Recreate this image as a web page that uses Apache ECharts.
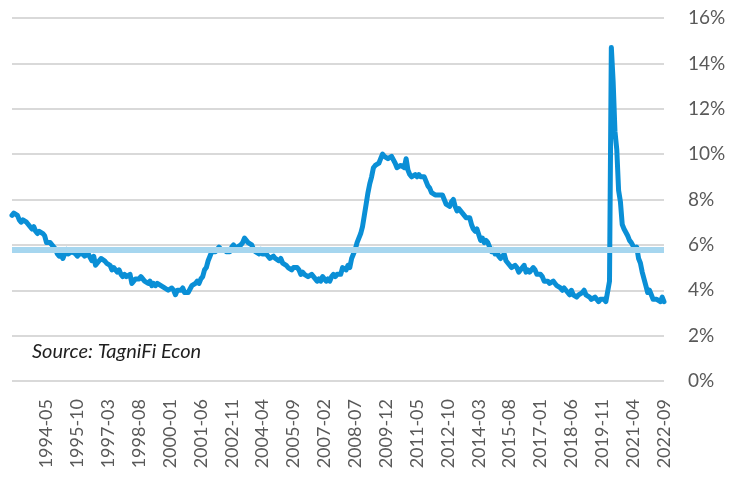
<!DOCTYPE html>
<html>
<head>
<meta charset="utf-8">
<script src="https://cdn.jsdelivr.net/npm/echarts@6/dist/echarts.min.js"></script>
<style>
  html, body { margin: 0; padding: 0; background: #fff; }
  #chart { width: 746px; height: 481px; }
</style>
</head>
<body>
<div id="chart"></div>
<script>
// monthly unemployment rate (%), 1992-10 .. 2022-09
const rates1990s = [
  7.3, 7.4, 7.4,
  7.3, 7.1, 7.0, 7.1, 7.1, 7.0, 6.9, 6.8, 6.7, 6.8, 6.6, 6.5,
  6.6, 6.6, 6.5, 6.4, 6.1, 6.1, 6.1, 6.0, 5.9, 5.8, 5.6, 5.5,
  5.6, 5.4, 5.4, 5.8, 5.6, 5.6, 5.7, 5.7, 5.6, 5.5, 5.6, 5.6,
  5.6, 5.5, 5.5, 5.6, 5.6, 5.3, 5.5, 5.1, 5.2, 5.2, 5.4, 5.4,
  5.3, 5.2, 5.2, 5.1, 4.9, 5.0, 4.9, 4.8, 4.9, 4.7, 4.6, 4.7,
  4.6, 4.6, 4.7, 4.3, 4.4, 4.5, 4.5, 4.5, 4.6, 4.5, 4.4, 4.4,
  4.3, 4.4, 4.2, 4.3, 4.2, 4.3, 4.3, 4.2, 4.2, 4.1, 4.1, 4.0
];
const rates2000s = [
  4.0, 4.1, 4.0, 3.8, 4.0, 4.0, 4.0, 4.1, 3.9, 3.9, 3.9, 3.9,
  4.2, 4.2, 4.3, 4.4, 4.3, 4.5, 4.6, 4.9, 5.0, 5.3, 5.5, 5.7,
  5.7, 5.7, 5.7, 5.9, 5.8, 5.8, 5.8, 5.7, 5.7, 5.7, 5.9, 6.0,
  5.8, 5.9, 5.9, 6.0, 6.1, 6.3, 6.2, 6.1, 6.1, 6.0, 5.8, 5.7,
  5.7, 5.6, 5.8, 5.6, 5.6, 5.6, 5.5, 5.4, 5.4, 5.5, 5.4, 5.4,
  5.3, 5.4, 5.2, 5.2, 5.1, 5.0, 5.0, 4.9, 5.0, 5.0, 5.0, 4.9,
  4.7, 4.8, 4.7, 4.7, 4.6, 4.6, 4.7, 4.7, 4.5, 4.4, 4.5, 4.4,
  4.6, 4.5, 4.4, 4.5, 4.4, 4.6, 4.7, 4.6, 4.7, 4.7, 4.7, 5.0,
  5.0, 4.9, 5.1, 5.0, 5.4, 5.6, 5.8, 6.1, 6.1, 6.5, 6.8, 7.3,
  7.8, 8.3, 8.7, 9.0, 9.4, 9.5, 9.5, 9.6, 9.8, 10.0, 9.9, 9.9
];
const rates2010s = [
  9.8, 9.8, 9.9, 9.9, 9.6, 9.4, 9.4, 9.5, 9.5, 9.4, 9.8, 9.3,
  9.1, 9.0, 9.0, 9.1, 9.0, 9.1, 9.0, 9.0, 9.0, 8.8, 8.6, 8.5,
  8.3, 8.3, 8.2, 8.2, 8.2, 8.2, 8.2, 8.0, 7.8, 7.8, 7.7, 7.9,
  8.0, 7.7, 7.5, 7.6, 7.5, 7.5, 7.3, 7.2, 7.2, 7.2, 6.9, 6.7,
  6.6, 6.7, 6.7, 6.2, 6.3, 6.1, 6.2, 6.1, 5.9, 5.7, 5.8, 5.6,
  5.7, 5.5, 5.4, 5.4, 5.6, 5.3, 5.2, 5.1, 5.0, 5.0, 5.1, 5.0,
  4.8, 4.9, 5.0, 5.1, 4.8, 4.9, 4.8, 4.9, 5.0, 4.9, 4.7, 4.7,
  4.7, 4.6, 4.4, 4.4, 4.4, 4.3, 4.3, 4.4, 4.3, 4.2, 4.2, 4.1,
  4.0, 4.1, 4.0, 4.0, 3.8, 4.0, 3.8, 3.8, 3.7, 3.8, 3.8, 3.9,
  4.0, 3.8, 3.8, 3.7, 3.6, 3.6, 3.7, 3.6, 3.5, 3.6, 3.6, 3.6
];
const rates2020s = [
  3.5, 3.5, 4.4, 14.7, 13.2, 11.0, 10.2, 8.4, 7.9, 6.9, 6.7, 6.7,
  6.4, 6.2, 6.1, 6.1, 5.8, 5.9, 5.4, 5.2, 4.8, 4.5, 4.2, 3.9,
  4.0, 3.8, 3.6, 3.6, 3.6, 3.6, 3.5, 3.7, 3.5
];
const avgRate = 5.8;
const startYear = 1992, startMonth = 10;
const yTicks = [0, 2, 4, 6, 8, 10, 12, 14, 16];

const rates = [].concat(rates1990s, rates2000s, rates2010s, rates2020s);
const months = rates.map((v, i) => {
  const m = startMonth - 1 + i;
  const y = startYear + Math.floor(m / 12);
  return y + '-' + String(m % 12 + 1).padStart(2, '0');
});
const last = months.length - 1;

const chart = echarts.init(document.getElementById('chart'));
chart.setOption({
  animation: false,
  grid: { left: 12, right: 82, top: 18, bottom: 100 },
  xAxis: {
    type: 'category',
    boundaryGap: false,
    data: months,
    axisLine: { show: false },
    axisTick: { show: false },
    axisLabel: {
      rotate: 90,
      margin: 18,
      color: '#595959',
      fontFamily: 'Lato',
      fontSize: 18,
      // label every 17 months, counted back from the last month
      interval: (idx) => idx >= 17 && (last - idx) % 17 === 0
    }
  },
  yAxis: {
    type: 'value',
    position: 'right',
    min: yTicks[0],
    max: yTicks[yTicks.length - 1],
    interval: 2,
    axisLine: { show: false },
    axisTick: { show: false },
    axisLabel: {
      margin: 24,
      color: '#595959',
      fontFamily: 'Lato',
      fontSize: 19,
      formatter: '{value}%'
    },
    splitLine: { lineStyle: { color: '#d9d9d9', width: 2 } }
  },
  graphic: [{
    type: 'text',
    left: 32,
    top: 342,
    style: {
      text: 'Source: TagniFi Econ',
      font: 'italic 20px Lato',
      fill: '#1f1f1f'
    }
  }],
  series: [
    {
      name: 'Average',
      type: 'line',
      z: 1,
      data: [],
      markLine: {
        silent: true,
        symbol: 'none',
        label: { show: false },
        lineStyle: { color: '#a6d6ef', width: 6, type: 'solid' },
        data: [{ yAxis: avgRate }]
      }
    },
    {
      name: 'Unemployment rate',
      type: 'line',
      z: 3,
      data: rates,
      showSymbol: false,
      lineStyle: { color: '#0a8fd6', width: 5, join: 'round', cap: 'round' }
    }
  ]
});
</script>
</body>
</html>
